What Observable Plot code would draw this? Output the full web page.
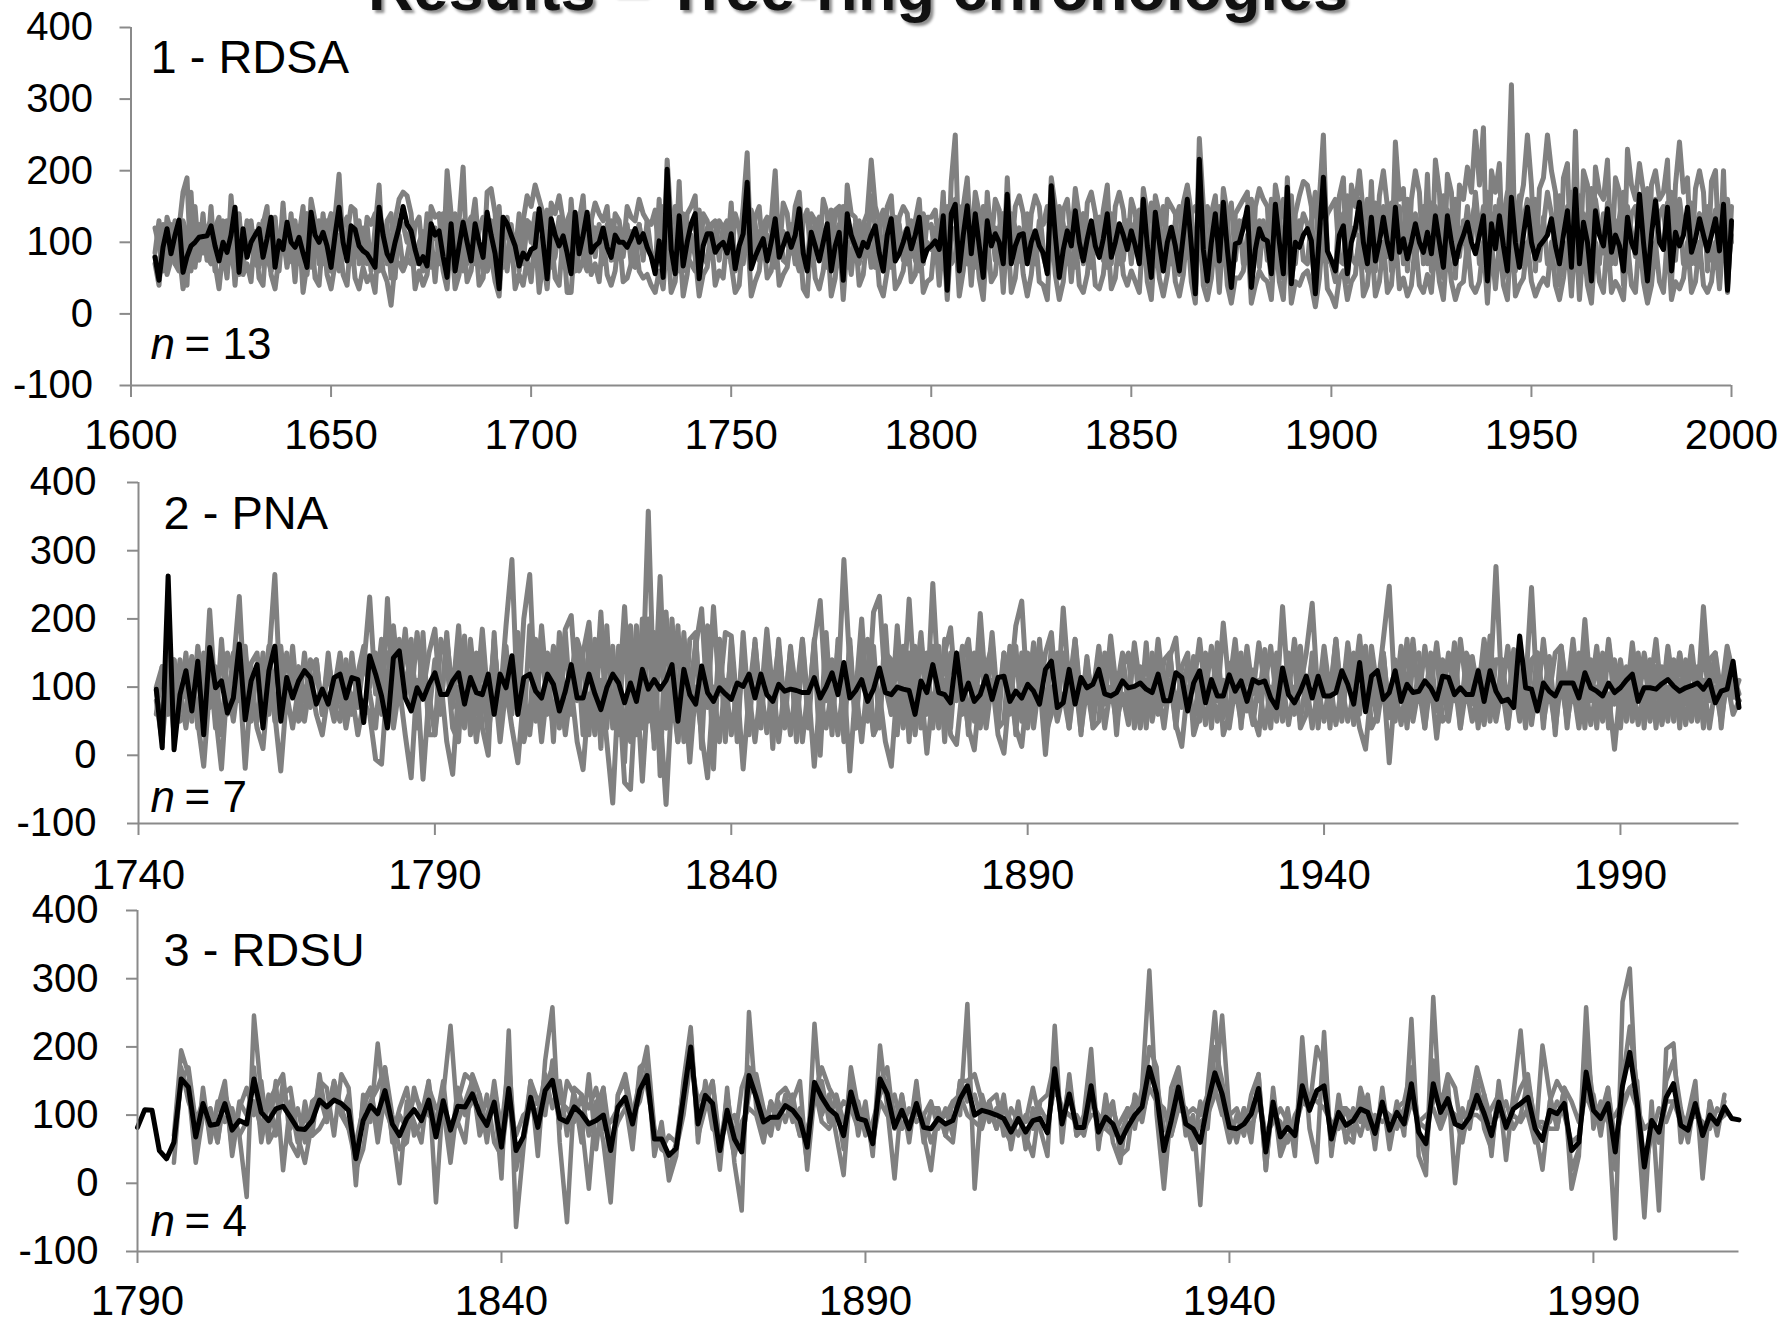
<!DOCTYPE html>
<html><head><meta charset="utf-8">
<script src="https://cdn.jsdelivr.net/npm/d3@7"></script>
<script src="https://cdn.jsdelivr.net/npm/@observablehq/plot@0.6"></script>
<style>
html,body{margin:0;padding:0;background:#fff;}
body{width:1790px;height:1323px;position:relative;overflow:hidden;font-family:"Liberation Sans",Arial,sans-serif;}
#title{position:absolute;left:-37px;top:-43px;width:1790px;text-align:center;font-family:"Liberation Sans",Arial,sans-serif;font-weight:bold;font-size:63px;line-height:63px;color:#111;text-shadow:3px 3px 3px rgba(0,0,0,0.45);white-space:nowrap;}
.panel{position:absolute;left:0;}
</style></head><body>
<div id="title">Results – Tree-ring chronologies</div>
<div id="p1" class="panel" style="top:0px"></div>
<div id="p2" class="panel" style="top:470px"></div>
<div id="p3" class="panel" style="top:900px"></div>
<script>
// ---------- tick labels ----------
const yTicks = [-100, 0, 100, 200, 300, 400];
const p1XTicks = [1600, 1650, 1700, 1750, 1800, 1850, 1900, 1950, 2000];
const p2XTicks = [1740, 1790, 1840, 1890, 1940, 1990];
const p3XTicks = [1790, 1840, 1890, 1940, 1990];
const panelLabels = ["1 - RDSA", "2 - PNA", "3 - RDSU"];
const sampleSizes = [13, 7, 4];

// ---------- panel 1 : RDSA (mean 1606-2000, series 1606-2000) ----------
const p1Start = 1606;
const p1Mean = [79,47,93,119,
84,110,131,58,80,95,100,107,108,109,
123,95,74,100,86,110,149,58,119,79,
100,110,119,79,105,135,65,102,90,128,
100,93,107,85,65,142,110,100,114,95,
65,110,149,100,74,123,118,95,88,84,
75,65,149,110,84,74,100,121,150,125,
116,90,70,80,67,126,110,116,80,51,
126,60,95,128,100,74,126,100,79,142,
110,84,35,135,126,110,95,67,85,77,
90,93,147,100,49,133,110,95,109,85,
56,142,84,110,142,86,95,100,120,93,
79,110,100,100,93,105,119,100,112,93,
80,56,102,51,202,90,56,137,67,100,
126,140,49,95,112,112,86,95,100,85,
112,63,95,112,184,63,80,93,105,74,
100,133,79,95,112,93,110,147,85,60,
114,95,74,100,126,60,95,114,47,140,
110,95,81,100,93,110,123,85,60,110,
133,74,84,100,119,91,110,135,74,90,
95,102,90,137,33,140,153,60,110,151,
84,140,95,51,130,95,112,100,70,167,
70,95,110,112,70,100,116,95,85,56,
179,110,51,90,116,95,144,100,74,105,
130,95,79,105,140,79,100,126,110,90,
116,95,70,160,95,51,142,100,60,100,
121,95,60,110,160,95,28,216,90,46,
100,140,74,156,90,37,98,100,120,149,
37,90,119,105,102,56,153,100,56,177,
42,100,93,110,119,102,28,110,191,88,
75,60,110,123,56,100,120,156,100,70,
135,74,100,135,100,77,149,86,105,77,
100,126,100,86,114,84,137,100,65,137,
100,70,95,110,128,100,84,110,137,46,
126,91,137,95,60,163,100,65,110,149,
100,77,95,102,110,133,95,70,110,144,
65,174,70,128,100,46,144,110,95,147,
86,110,95,60,135,100,85,167,100,46,
110,158,100,90,149,60,114,95,110,149,
86,105,133,110,88,110,133,88,153,33,
130];
const p1SeriesA = [85,130,60,135,
115,70,120,170,190,60,150,80,140,75,
150,70,105,130,60,165,95,135,60,125,
130,80,115,125,150,60,130,75,155,80,
140,70,110,150,60,160,130,70,140,80,
60,135,195,90,110,150,145,70,110,125,
60,120,180,75,125,50,130,160,170,165,
140,70,100,115,60,150,135,140,70,200,
140,60,130,205,70,120,160,90,60,170,
175,140,60,120,135,80,110,60,130,165,
150,180,160,140,60,155,140,165,130,60,
160,80,130,165,70,130,155,140,130,150,
75,140,130,90,150,135,130,160,140,130,
85,60,160,60,215,125,60,185,60,140,
150,165,50,140,130,100,90,130,120,80,
155,60,90,150,225,70,135,150,80,130,
130,200,80,155,140,90,150,170,90,65,
140,130,80,160,140,60,145,150,50,180,
140,135,70,125,140,215,150,130,60,150,
165,80,135,150,140,80,130,160,70,135,
135,145,90,170,40,185,250,70,150,190,
90,170,140,50,170,100,160,145,60,190,
80,150,165,140,70,140,165,150,90,60,
190,150,50,145,160,100,175,135,70,155,
170,140,80,145,180,70,150,170,145,90,
160,140,70,175,140,50,165,140,60,160,
150,140,60,155,180,140,30,245,150,40,
140,165,70,175,140,30,140,150,160,170,
40,150,175,160,150,50,180,150,50,190,
40,140,165,185,180,150,25,160,250,80,
70,50,165,190,45,180,150,200,140,60,
185,60,165,200,150,60,240,160,175,60,
160,200,170,70,195,60,215,170,50,195,
170,50,180,160,205,170,255,180,260,30,
200,170,210,50,150,320,60,150,180,250,
180,60,175,190,250,200,170,40,190,210,
50,255,50,200,180,30,205,170,160,215,
70,190,170,40,230,180,160,210,170,30,
180,200,160,170,215,40,180,240,170,190,
70,175,200,170,60,185,200,70,200,30,
150];
const p1SeriesB = [70,40,110,55,
75,120,90,35,60,110,70,115,85,120,
110,70,35,90,50,120,40,110,55,70,
45,115,50,40,120,55,35,80,110,65,
110,45,120,30,70,120,50,40,110,55,
35,70,110,55,40,110,50,35,65,45,
55,30,115,60,45,12,70,110,65,80,
110,35,60,40,55,110,45,110,60,35,
110,35,55,115,45,60,110,40,50,110,
80,45,25,110,60,110,35,55,40,75,
45,110,30,75,35,110,50,40,110,30,
30,110,60,75,110,55,70,45,110,55,
40,60,110,45,50,70,110,60,50,55,
40,30,60,35,110,30,45,110,25,55,
110,80,25,55,65,110,40,60,50,110,
70,30,40,110,120,25,45,60,110,50,
60,110,40,55,65,110,70,110,35,25,
110,50,35,60,110,25,50,110,20,100,
55,110,40,55,110,65,110,40,25,60,
110,35,45,60,110,45,55,110,30,45,
50,110,40,110,20,110,120,25,60,120,
40,110,50,20,110,45,55,110,30,120,
30,50,110,55,25,55,110,45,40,20,
130,55,20,45,110,45,110,40,30,55,
110,40,35,55,110,35,50,110,55,40,
60,45,30,120,45,20,110,50,25,55,
110,45,25,55,120,45,15,150,40,20,
50,110,30,120,40,15,50,50,60,110,
15,40,60,50,45,20,110,45,20,120,
15,45,40,55,60,40,10,50,120,35,
25,10,50,60,20,45,55,110,25,40,
100,25,45,100,30,40,110,35,50,25,
40,100,40,30,55,30,100,45,20,100,
45,20,40,45,100,40,30,45,100,15,
100,35,100,40,20,120,25,40,50,100,
45,25,40,50,40,100,40,20,50,100,
25,120,20,100,40,15,100,45,30,110,
30,45,35,20,100,40,30,110,45,15,
40,100,45,30,110,20,45,35,50,100,
30,45,100,40,30,45,100,35,110,60,
110];
const p1SeriesC = [80,60,125,95,
100,130,75,115,40,170,65,125,95,120,
130,60,120,70,115,100,140,55,115,80,
115,95,125,70,130,90,120,60,125,95,
85,130,75,120,55,135,95,120,85,130,
60,110,140,90,100,120,95,80,120,70,
95,80,120,100,70,110,50,130,125,100,
120,75,95,60,115,100,120,80,140,50,
110,75,110,130,90,110,120,95,75,60,
130,90,60,125,110,95,80,110,70,130,
100,140,70,120,60,120,95,135,75,60,
130,90,115,130,75,110,120,95,115,100,
80,120,90,105,95,115,100,125,90,110,
85,60,125,55,170,80,65,130,90,110,
120,125,60,100,120,90,115,85,120,95,
130,75,85,120,160,70,100,115,85,110,
90,150,80,115,100,85,120,135,80,70,
120,95,75,115,120,65,110,125,55,140,
100,120,90,100,85,165,120,80,65,125,
135,80,95,110,120,85,115,130,80,100,
90,120,70,140,40,150,160,70,120,140,
90,130,110,50,135,100,120,95,75,150,
80,110,120,95,80,115,110,100,80,60,
160,105,60,100,120,95,135,80,90,120,
125,85,95,110,145,80,110,125,100,90,
125,90,80,150,95,55,140,105,65,120,
115,100,55,120,150,90,30,200,80,50,
110,135,70,150,95,40,110,100,130,140,
40,100,130,110,95,50,145,110,50,160,
45,90,110,140,125,95,30,130,180,80,
70,45,120,140,50,120,110,160,65,90,
140,70,110,150,80,95,170,90,120,70,
100,140,105,80,130,80,150,110,55,145,
115,60,120,100,150,95,170,110,150,40,
140,95,160,90,55,200,70,95,130,160,
120,70,110,125,170,140,100,60,125,150,
70,180,60,140,110,40,160,120,85,155,
80,130,100,55,150,115,80,165,110,40,
120,160,105,90,155,55,120,160,115,140,
80,120,140,110,85,120,145,90,150,40,
125];
const p1SeriesD = [120,95,70,60,
125,70,60,130,110,70,120,75,125,80,
70,120,135,80,130,75,60,140,70,130,
125,70,65,130,80,60,135,75,125,70,
75,125,70,130,140,65,85,130,70,120,
140,75,60,125,135,70,80,130,70,135,
125,140,60,80,130,140,75,70,60,75,
70,125,135,75,140,65,80,70,130,145,
65,140,80,60,125,135,70,120,135,60,
75,130,150,65,70,125,80,140,75,130,
125,80,60,120,145,65,80,125,70,130,
145,60,125,75,60,130,80,125,70,125,
130,75,120,80,125,70,65,125,75,130,
125,145,75,150,80,125,150,60,140,80,
70,60,145,80,70,125,130,75,120,130,
70,140,120,70,110,145,125,75,125,135,
120,65,130,75,70,125,80,60,130,145,
70,125,135,80,65,145,75,70,150,65,
75,125,130,80,125,70,65,130,145,75,
65,135,125,75,70,130,75,60,140,120,
125,80,130,65,150,70,80,150,75,70,
135,65,125,150,70,130,75,120,140,85,
140,120,75,70,140,75,70,130,125,150,
90,75,150,125,70,130,65,120,140,75,
65,130,135,75,65,140,120,70,75,130,
70,130,145,80,125,155,70,120,150,80,
70,130,150,75,90,140,150,140,70,150,
125,70,150,80,130,155,75,130,70,80,
160,120,65,130,75,160,80,130,160,90,
165,70,130,75,70,130,170,75,120,140,
150,160,75,70,165,80,70,100,130,160,
70,155,80,65,130,155,80,150,70,160,
130,70,125,150,70,155,75,130,165,75,
125,160,80,130,70,130,155,70,90,170,
70,150,75,135,170,110,130,165,70,90,
130,160,75,135,70,80,135,165,75,85,
170,100,165,70,135,175,80,70,140,80,
150,70,135,170,75,140,150,100,70,175,
75,90,140,150,80,170,75,145,70,90,
155,70,80,135,150,75,80,150,90,160,
100];

// ---------- panel 2 : PNA (1743-2010) ----------
const p2Start = 1743;
const p2Mean = [97,11,263,8,89,124,65,
138,30,158,99,109,62,84,163,52,109,
133,40,124,160,50,114,84,109,124,114,
75,97,75,114,119,84,114,111,48,146,
119,87,40,143,153,84,65,99,82,104,
121,89,89,109,121,75,114,92,89,119,
60,119,99,146,60,114,119,94,84,119,
104,65,94,133,84,84,119,90,67,99,
119,106,77,106,79,126,97,111,97,110,
133,50,126,89,75,131,92,79,99,90,
82,106,101,119,84,119,89,79,104,94,
97,95,92,92,114,84,100,121,89,136,
84,95,111,79,97,128,92,89,100,97,
95,60,109,92,133,92,89,77,150,82,
106,79,89,116,82,114,116,79,94,84,
104,94,75,126,138,70,77,126,75,114,
99,104,126,90,87,92,109,99,101,106,
97,92,119,80,80,121,114,65,106,124,
77,111,87,87,118,94,109,79,111,106,
109,84,70,128,89,77,94,116,84,116,
87,87,92,124,104,75,136,64,116,124,
82,92,124,79,104,92,94,109,99,82,
116,114,89,99,89,89,124,79,124,94,
79,82,70,175,99,97,65,106,94,87,
106,106,106,84,121,99,94,87,106,92,
99,110,119,79,99,99,97,105,111,101,
94,99,102,106,97,110,77,94,97,138,
70];
const p2SeriesA = [95,40,170,60,140,85,145,
110,60,213,80,140,95,130,233,70,135,
150,60,140,265,75,150,90,130,80,140,
120,70,135,95,150,80,140,90,130,232,
90,170,80,190,100,185,80,180,95,150,
185,70,170,90,190,60,170,80,185,75,
160,80,190,287,60,200,265,70,190,85,
160,90,185,205,80,150,195,70,210,60,
140,80,218,60,190,90,358,70,262,40,
200,60,170,100,160,215,70,218,90,180,
175,70,150,90,165,80,185,90,160,70,
155,90,170,70,165,227,80,140,95,287,
130,90,200,70,210,233,100,60,190,80,
229,90,180,70,252,95,150,187,80,140,
170,80,208,90,180,70,150,100,190,226,
80,165,90,150,180,70,216,100,170,80,
130,90,160,80,175,95,150,70,165,100,
140,80,170,90,145,172,70,140,100,170,
90,160,80,194,100,170,80,160,90,165,
100,160,80,218,90,170,100,150,223,80,
160,90,170,80,165,100,175,70,160,95,
170,248,80,160,90,170,80,160,95,165,
90,150,80,170,100,145,90,170,100,277,
90,160,80,165,100,246,80,170,90,150,
160,90,170,80,199,90,160,80,170,95,
140,80,165,90,150,100,170,80,160,95,
150,90,160,80,218,100,150,90,160,120,
90];
const p2SeriesB = [80,20,120,30,100,40,110,
50,-16,100,60,-20,110,50,120,-19,100,
40,10,110,60,-23,90,40,100,50,110,
60,30,90,50,100,40,90,30,80,60,
-6,-13,110,40,100,30,-33,110,-35,90,
30,110,20,-28,100,40,110,20,100,30,
110,20,100,40,-11,90,30,110,20,100,
40,110,30,100,20,-21,90,30,110,20,
-70,100,-40,-50,110,-38,100,20,60,-72,
90,20,110,-10,100,30,-33,100,20,110,
30,100,-20,90,20,100,33,110,20,100,
30,110,20,100,-16,90,40,100,30,110,
-23,100,20,110,30,90,20,-16,100,40,
110,30,100,3,90,40,110,30,16,100,
40,8,100,40,110,30,3,100,40,13,
100,40,110,1,100,50,90,40,110,35,
100,45,110,40,100,50,90,45,100,40,
110,50,100,40,110,45,13,100,50,110,
45,100,50,110,40,100,50,90,45,110,
40,100,50,110,45,100,50,110,40,100,
50,110,45,100,50,90,40,9,100,50,
110,-11,100,45,110,50,100,40,110,25,
100,50,110,40,100,50,90,45,110,50,
100,40,110,50,100,45,110,50,100,40,
110,50,100,40,110,45,100,50,90,9,
100,50,110,45,100,50,110,45,100,50,
110,45,100,50,110,40,100,50,110,60,
80];
const p2SeriesC = [100,130,60,140,70,150,50,
160,90,140,40,170,60,150,80,160,50,
130,80,160,50,140,70,160,60,150,70,
140,60,150,70,130,60,150,70,140,100,
150,60,230,70,170,90,160,60,150,60,
140,60,180,70,150,50,160,60,150,40,
170,50,160,60,150,40,190,50,170,60,
150,40,180,60,160,30,170,50,190,40,
160,30,190,20,170,40,200,10,180,40,
160,20,180,40,170,50,190,30,170,60,
150,30,180,60,160,40,170,50,170,60,
160,40,150,60,170,30,180,50,160,40,
170,40,180,50,160,40,190,60,150,50,
150,40,170,60,160,50,170,40,150,60,
150,50,160,60,170,40,150,60,160,50,
150,60,170,50,160,60,150,50,170,60,
145,65,130,75,160,50,140,80,155,60,
165,55,140,75,150,65,120,70,145,50,
140,75,165,55,135,80,150,65,125,80,
155,50,145,85,130,60,160,75,140,55,
135,80,170,55,140,45,165,70,130,75,
150,55,140,80,170,60,130,75,150,65,
140,80,165,55,135,75,125,60,175,65,
140,70,155,60,130,65,150,80,145,55,
160,75,130,65,150,80,140,55,165,75,
135,60,150,80,140,70,130,65,155,60,
150,75,140,65,160,80,130,70,145,85,
110];
const p2SeriesD = [60,130,110,140,50,60,140,
40,150,70,130,30,150,120,90,150,60,
50,150,60,120,160,70,140,50,60,130,
140,60,130,70,50,140,60,120,160,90,
40,140,150,60,100,150,170,40,180,30,
30,170,140,40,20,175,30,150,40,0,
180,30,150,100,180,20,60,170,30,150,
20,180,40,120,170,140,30,170,10,190,
40,160,-10,190,30,200,50,180,-30,210,
60,190,20,170,180,10,180,-20,170,20,
170,20,160,30,170,50,160,10,150,40,
150,20,170,40,160,0,160,30,170,20,
160,40,150,170,30,50,150,140,30,160,
20,160,40,150,40,160,20,150,100,160,
30,150,40,130,160,40,50,160,30,150,
40,130,160,30,60,150,140,40,150,30,
140,40,50,150,140,30,130,150,40,130,
40,150,60,140,150,40,130,150,30,60,
150,40,140,30,60,150,40,140,60,30,
130,40,150,50,150,140,40,60,150,40,
140,40,150,50,130,150,60,160,40,60,
150,60,50,140,40,140,150,40,130,150,
50,60,140,40,150,130,40,150,50,140,
140,40,150,120,40,140,150,40,140,30,
140,40,130,150,40,140,40,150,40,140,
40,130,50,150,40,140,40,130,50,140,
40,140,50,130,40,140,150,40,130,90,
80];

// ---------- panel 3 : RDSU (mean 1790-2010, series 1795-2008) ----------
const p3Start = 1790;
const p3SeriesStart = 1795;
const p3Mean = [82,108,107,48,36,60,153,141,68,117,
85,87,117,78,92,87,153,104,92,109,
113,97,80,79,92,122,112,122,117,107,
36,92,114,102,136,87,70,95,108,92,
122,68,121,78,113,112,131,102,85,119,
53,139,48,68,126,82,136,151,95,90,
112,102,87,92,100,48,112,126,87,137,
158,65,65,41,51,126,200,87,129,117,
48,107,65,46,158,126,90,97,97,114,
107,93,53,148,126,109,100,70,134,95,
92,58,153,131,82,107,80,117,82,80,
95,87,92,124,143,100,107,104,100,95,
75,95,75,92,95,74,168,87,131,82,
82,143,75,97,87,60,82,100,112,170,
131,48,92,141,87,80,60,117,162,131,
82,80,87,102,139,46,119,68,82,70,
143,107,136,143,65,104,85,92,109,104,
73,119,78,104,87,146,75,58,146,104,
124,87,82,97,129,102,70,119,82,109,
117,126,80,63,107,102,117,48,60,163,
107,95,117,46,143,192,119,24,92,75,
126,146,85,78,117,70,100,87,112,95,
93];
const p3SeriesA = [70,195,160,40,140,
60,120,90,110,70,-20,246,130,70,150,
19,120,60,100,70,160,90,140,100,130,
-3,130,90,205,110,80,0,120,90,60,
150,-28,130,231,90,120,150,70,100,130,
7,224,-64,50,150,40,180,258,60,-57,
130,90,-8,120,60,-28,130,150,60,170,
180,40,90,4,40,150,229,60,150,100,
20,140,30,-40,251,110,70,120,80,130,
90,110,30,234,100,130,70,12,150,70,
120,40,202,110,7,130,60,140,70,19,
110,70,120,100,263,-8,130,90,110,80,
60,120,50,110,80,40,231,60,160,70,
100,197,50,130,60,30,110,80,140,312,
100,-8,110,160,70,100,-32,140,251,110,
60,100,70,130,160,19,140,50,110,40,
214,80,31,222,40,130,60,110,90,130,
50,140,60,120,70,241,40,12,273,90,
150,0,110,80,150,80,50,140,34,130,
224,100,60,202,130,80,140,-8,40,258,
80,120,100,-81,266,315,100,-50,120,-40,
197,205,60,100,150,7,120,70,130];
const p3SeriesB = [50,170,120,90,100,
110,60,140,50,120,100,120,80,130,70,
150,80,110,60,120,130,90,150,100,80,
60,110,140,80,170,60,100,80,130,110,
100,90,150,50,140,100,120,130,70,150,
70,120,70,100,110,120,100,180,120,110,
90,130,70,110,140,60,90,110,100,150,
200,80,50,70,60,110,180,110,120,150,
60,90,100,60,130,160,110,80,120,90,
130,70,80,120,150,90,130,90,110,120,
70,90,130,150,100,80,110,90,100,120,
80,110,70,150,120,130,90,120,80,110,
90,70,100,80,110,90,140,110,100,90,
70,120,100,80,110,70,100,120,90,150,
150,80,70,120,110,60,90,100,130,246,
100,60,110,80,120,70,100,90,60,100,
120,130,120,110,90,80,110,70,130,80,
100,90,100,80,110,130,90,80,120,130,
110,100,60,120,110,130,90,100,120,80,
100,150,90,80,90,120,100,60,70,140,
130,70,140,60,110,140,150,20,70,110,
90,120,100,90,100,90,80,110,100];
const p3SeriesC = [60,150,170,90,120,
70,110,150,40,110,140,100,150,60,80,
130,140,70,30,90,150,140,70,160,140,
20,50,120,140,170,100,50,60,140,100,
150,70,110,30,120,160,150,80,130,60,
40,130,20,70,150,120,140,170,80,150,
130,60,160,50,140,10,130,160,100,120,
170,60,70,20,60,140,220,70,110,150,
40,130,60,140,170,150,90,70,130,140,
120,150,20,130,170,140,120,50,170,110,
100,50,150,170,80,130,70,150,60,110,
110,70,60,150,150,160,120,110,80,130,
50,110,70,40,120,130,180,80,150,70,
80,160,60,100,120,40,50,130,110,200,
170,20,140,170,90,50,120,80,200,150,
80,70,110,60,160,20,130,40,70,60,
170,110,200,170,50,100,70,60,140,100,
60,130,50,110,120,170,80,30,180,110,
160,140,70,110,170,130,40,150,80,110,
140,160,80,20,120,150,130,20,50,200,
120,100,140,20,150,230,140,-10,100,60,
150,180,110,60,130,40,120,80,120];
const p3SeriesD = [30,160,140,30,100,
110,60,130,100,70,90,170,60,120,140,
160,60,40,120,70,80,100,150,110,80,
30,120,140,60,130,70,110,140,70,90,
140,110,120,70,90,60,160,130,60,140,
80,180,40,60,120,100,160,110,150,70,
140,130,110,140,80,90,110,120,50,160,
140,80,50,40,50,100,180,120,140,80,
70,90,40,90,110,100,60,120,100,120,
110,70,70,140,90,80,100,120,110,80,
100,60,120,100,130,80,90,100,100,60,
90,100,120,130,100,90,80,120,130,70,
110,90,90,140,90,80,150,110,100,100,
80,100,100,80,70,90,110,90,100,140,
120,110,70,110,100,110,100,130,140,100,
100,110,80,110,130,70,90,110,90,80,
120,110,130,140,70,110,110,100,70,110,
90,110,100,90,80,120,90,100,110,80,
110,100,70,100,100,90,110,130,90,100,
90,110,90,90,80,80,140,120,90,130,
100,110,90,100,120,140,110,80,90,60,
120,120,90,80,120,80,90,90,100];

// ---------- drawing ----------
const AXIS = "#8a8a8a";
const FONT = "Liberation Sans, Arial, sans-serif";
const fmt = d => String(d);

function makePanel(c) {
  const grayRows = c.series.flatMap((arr, k) => arr.map((v, i) => ({year: c.seriesStart + i, value: v, s: k})));
  const meanRows = c.mean.map((v, i) => ({year: c.meanStart + i, value: v}));
  return Plot.plot({
    width: 1790, height: c.height,
    marginLeft: c.ml, marginRight: c.mr, marginTop: c.mt, marginBottom: c.mb,
    style: {background: "transparent", overflow: "visible", fontFamily: FONT, color: "black"},
    x: {domain: c.xDomain, axis: null},
    y: {domain: [-100, 400], axis: null},
    marks: [
      Plot.line(grayRows, {x: "year", y: "value", z: "s", stroke: "#808080", strokeWidth: c.grayWidth, strokeLinejoin: "round", strokeLinecap: "round"}),
      Plot.line(meanRows, {x: "year", y: "value", stroke: "#000000", strokeWidth: 5, strokeLinejoin: "round", strokeLinecap: "round"}),
      Plot.ruleX([c.xDomain[0]], {stroke: AXIS, strokeWidth: 2}),
      Plot.ruleY([-100], {stroke: AXIS, strokeWidth: 2}),
      Plot.axisY(yTicks, {label: null, tickSize: 11, stroke: AXIS, strokeWidth: 2, tickFormat: () => ""}),
      Plot.axisY(yTicks, {label: null, tickSize: 0, tickPadding: c.yPad, fontSize: 40, tickFormat: fmt}),
      Plot.axisX(c.xTicks, {label: null, tickSize: 12, stroke: AXIS, strokeWidth: 2, tickFormat: () => ""}),
      Plot.axisX(c.xTicks, {label: null, tickSize: 0, tickPadding: c.xPad, fontSize: 42, tickFormat: fmt}),
      Plot.text([c.label], {text: d => d, frameAnchor: "top-left", dx: c.labelX - c.ml, dy: c.labelY - c.mt, textAnchor: "start", lineAnchor: "middle", fontSize: 47, fill: "black"}),
      Plot.text(["n"], {text: d => d, frameAnchor: "top-left", dx: 150 - c.ml, dy: c.nY - c.mt, textAnchor: "start", lineAnchor: "middle", fontSize: 44, fontStyle: "italic", fill: "black"}),
      Plot.text([c.n], {text: d => "= " + d, frameAnchor: "top-left", dx: 184 - c.ml, dy: c.nY - c.mt, textAnchor: "start", lineAnchor: "middle", fontSize: 44, fill: "black"})
    ]
  });
}

document.getElementById("p1").append(makePanel({
  height: 470, ml: 130.5, mr: 59, mt: 27, mb: 85,
  xDomain: [1600, 2000], xTicks: p1XTicks, yPad: 38, xPad: 34,
  mean: p1Mean, meanStart: p1Start, grayWidth: 5,
  series: [p1SeriesA, p1SeriesB, p1SeriesC, p1SeriesD], seriesStart: p1Start,
  label: panelLabels[0], labelX: 150, labelY: 57, n: sampleSizes[0], nY: 344
}));
document.getElementById("p2").append(makePanel({
  height: 430, ml: 138, mr: 51.5, mt: 12, mb: 77,
  xDomain: [1740, 2010], xTicks: p2XTicks, yPad: 42, xPad: 36,
  mean: p2Mean, meanStart: p2Start, grayWidth: 5,
  series: [p2SeriesA, p2SeriesB, p2SeriesC, p2SeriesD], seriesStart: p2Start,
  label: panelLabels[1], labelX: 163, labelY: 43, n: sampleSizes[1], nY: 327
}));
document.getElementById("p3").append(makePanel({
  height: 423, ml: 137, mr: 51.5, mt: 10, mb: 72,
  xDomain: [1790, 2010], xTicks: p3XTicks, yPad: 39, xPad: 34,
  mean: p3Mean, meanStart: p3Start, grayWidth: 4.5,
  series: [p3SeriesA, p3SeriesB, p3SeriesC, p3SeriesD], seriesStart: p3SeriesStart,
  label: panelLabels[2], labelX: 163, labelY: 50, n: sampleSizes[2], nY: 321
}));
</script>
</body></html>
